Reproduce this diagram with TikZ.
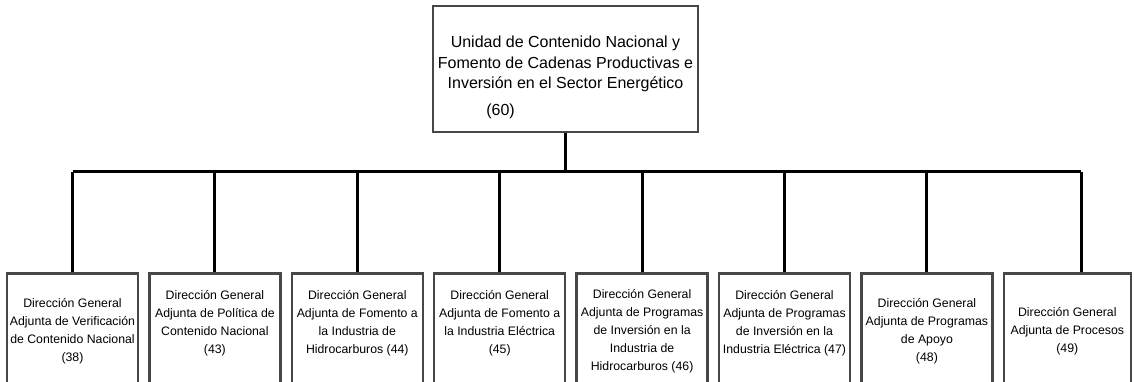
\documentclass[tikz,border=0pt]{standalone}
\usepackage{fontspec}
\setmainfont{Liberation Sans}
\usepackage{xcolor}
\usetikzlibrary{positioning}
\definecolor{boxline}{HTML}{474747}

\tikzset{
  topbox/.style={draw=boxline, line width=2.5pt, minimum width=265pt,
    minimum height=126pt, inner sep=0pt},
  toptext/.style={align=center, inner sep=0pt,
    font=\fontsize{16}{20.5}\selectfont},
  dirbox/.style={draw=boxline, line width=2.5pt, minimum width=131pt,
    minimum height=116pt, inner xsep=1pt, inner ysep=0pt, align=center,
    font=\fontsize{12.3}{18}\selectfont, anchor=north},
  link/.style={draw=black, line width=3pt}
}

\begin{document}
\begin{tikzpicture}[x=1pt, y=-1pt]
  \clip (0,0) rectangle (1134,382);
  \fill[white] (0,0) rectangle (1134,382);

  % unidad
  \node[topbox] (unidad) at (565.5,69) {};
  \node[toptext, below=31pt of unidad.north] (unidadtxt) {
    Unidad de Contenido Nacional y\\
    Fomento de Cadenas Productivas e\\
    Inversi\'on en el Sector Energ\'etico\\[6pt]
    (60)\hspace*{130pt}
  };

  % direcciones generales adjuntas
  \node[dirbox] (d1) at (72.5,272) {
    Direcci\'on General\\
    Adjunta de Verificaci\'on\\
    de Contenido Nacional\\
    (38)};
  \node[dirbox, right=8.9pt of d1.north east, anchor=north west] (d2) {
    Direcci\'on General\\
    Adjunta de Pol\'itica de\\
    Contenido Nacional\\
    (43)\\ \mbox{}};
  \node[dirbox, right=8.9pt of d2.north east, anchor=north west] (d3) {
    Direcci\'on General\\
    Adjunta de Fomento a\\
    la Industria de\\
    Hidrocarburos (44)\\ \mbox{}};
  \node[dirbox, right=8.9pt of d3.north east, anchor=north west] (d4) {
    Direcci\'on General\\
    Adjunta de Fomento a\\
    la Industria El\'ectrica\\
    (45)\\ \mbox{}};
  \node[dirbox, right=8.9pt of d4.north east, anchor=north west] (d5) {
    Direcci\'on General\\
    Adjunta de Programas\\
    de Inversi\'on en la\\
    Industria de\\
    Hidrocarburos (46)};
  \node[dirbox, right=8.9pt of d5.north east, anchor=north west] (d6) {
    Direcci\'on General\\
    Adjunta de Programas\\
    de Inversi\'on en la\\
    Industria El\'ectrica (47)\\ \mbox{}};
  \node[dirbox, right=8.9pt of d6.north east, anchor=north west] (d7) {
    Direcci\'on General\\
    Adjunta de Programas\\
    de Apoyo\\
    (48)};
  \node[dirbox, minimum width=127pt, right=8.9pt of d7.north east,
        anchor=north west] (d8) {
    Direcci\'on General\\
    Adjunta de Procesos\\
    (49)};

  % conectores
  \coordinate (bar) at (565.5,172);
  \coordinate (barend) at (1081,172);
  \draw[link] (unidad.south) -- (bar);
  \draw[link] (d1.north |- bar) -- (barend);
  \foreach \d in {d1,d2,d3,d4,d5,d6,d7}
    \draw[link] (\d.north |- bar) -- (\d.north);
  \draw[link] (barend) -- (barend |- d8.north);
\end{tikzpicture}
\end{document}
